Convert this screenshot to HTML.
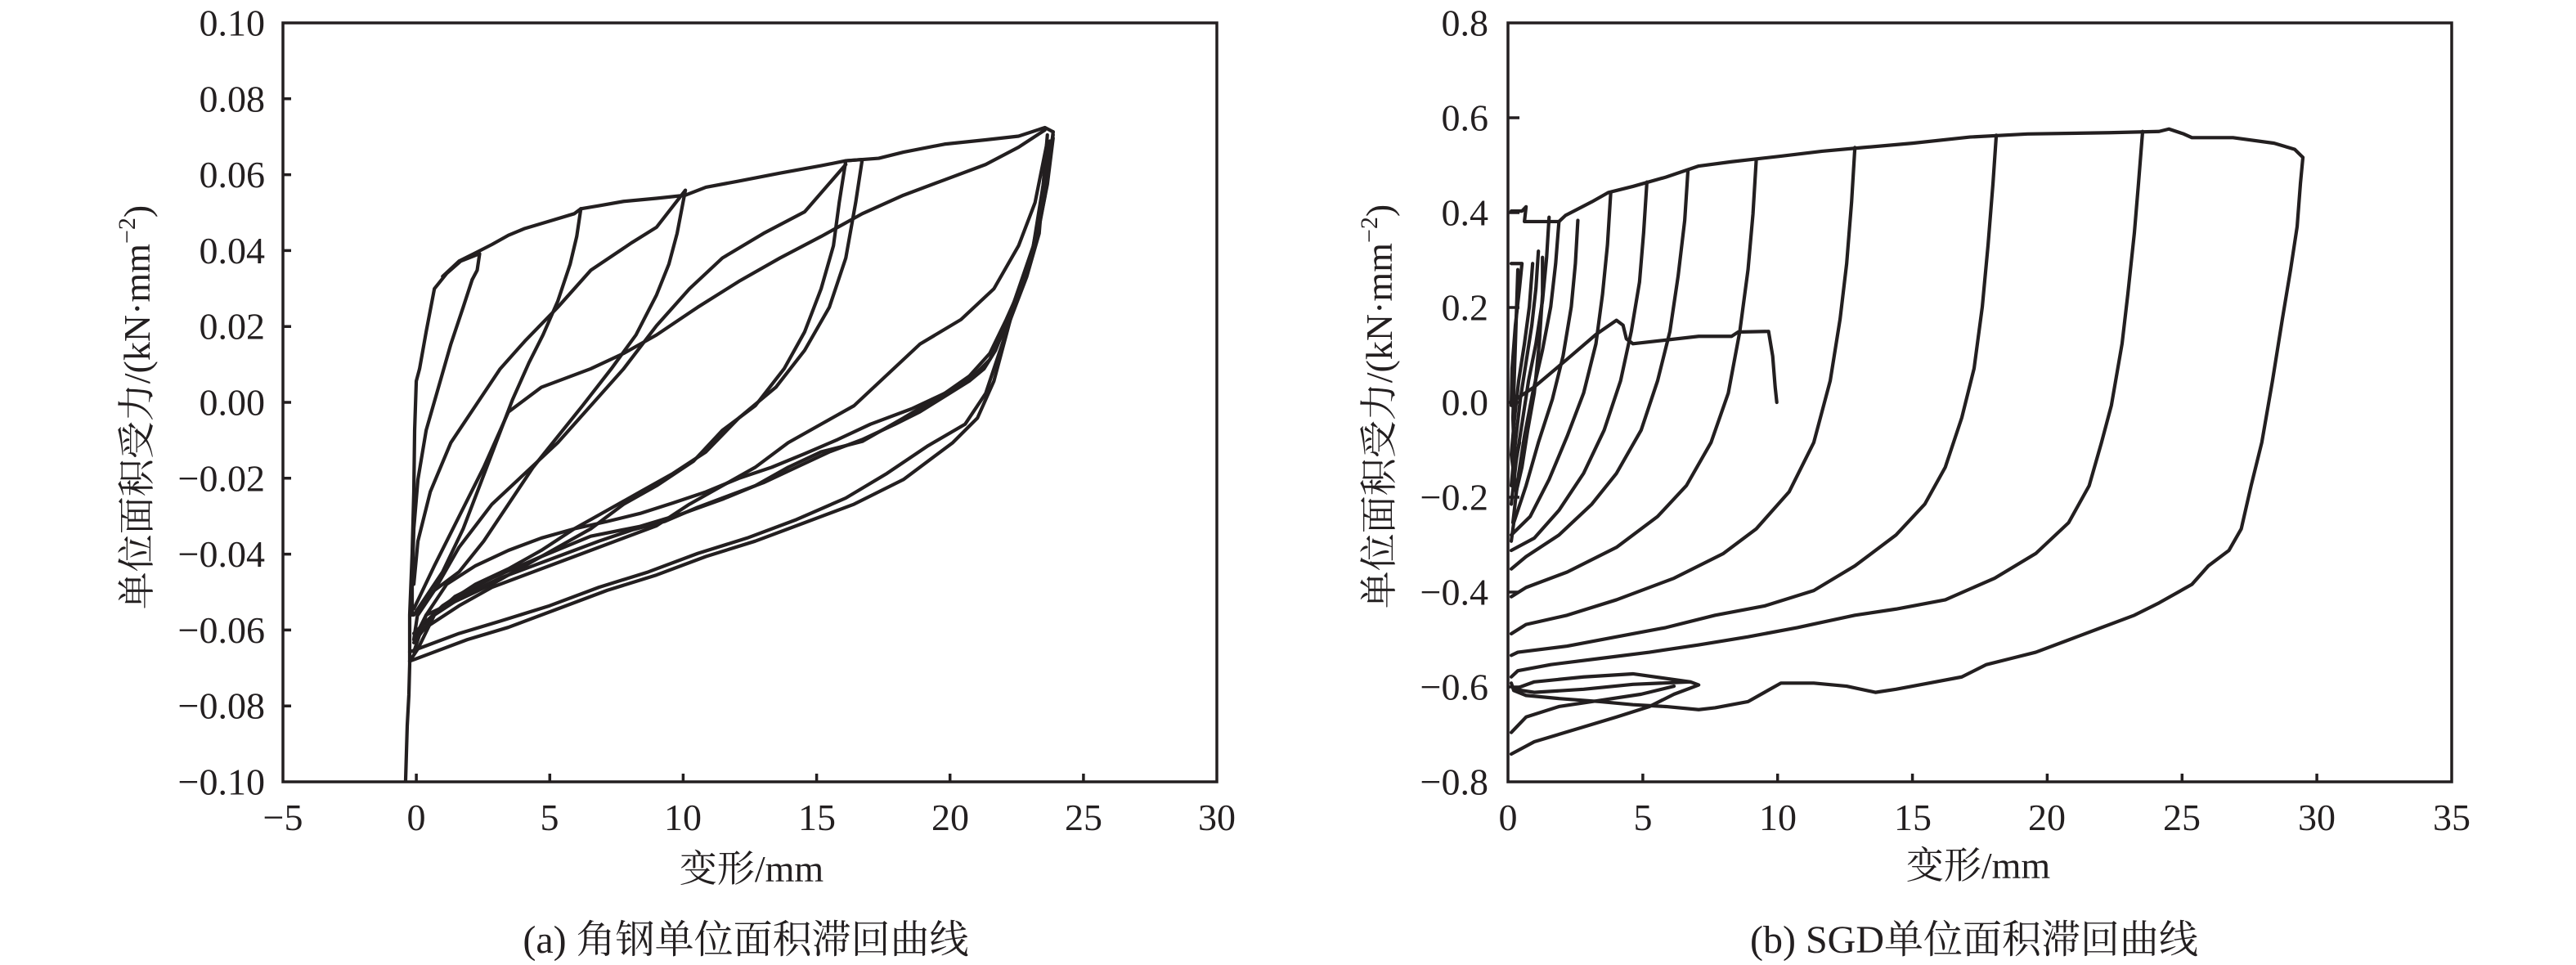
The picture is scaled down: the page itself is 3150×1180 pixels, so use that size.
<!DOCTYPE html>
<html><head><meta charset="utf-8"><style>
html,body{margin:0;padding:0;background:#fff;}
svg{display:block;}
text{font-family:"Liberation Serif","Noto Serif CJK SC","Noto Sans CJK SC",serif;fill:#231f20;}
.c{fill:none;stroke:#231f20;stroke-width:4.2;stroke-linejoin:round;stroke-linecap:round;}
.ax{fill:none;stroke:#231f20;stroke-width:3.5;}
</style></head><body>
<svg width="3150" height="1180" viewBox="0 0 3150 1180" xmlns="http://www.w3.org/2000/svg">
<rect width="3150" height="1180" fill="#fff"/>

<rect class="ax" x="346" y="28" width="1142" height="928"/>
<g class="ax">
<path d="M509.1 956v-10M672.3 956v-10M835.4 956v-10M998.6 956v-10M1161.7 956v-10M1324.9 956v-10"/>
<path d="M346 120.8h10M346 213.6h10M346 306.4h10M346 399.2h10M346 492h10M346 584.8h10M346 677.6h10M346 770.4h10M346 863.2h10"/>
</g>
<g font-size="46" text-anchor="end" dominant-baseline="central">
<text x="324" y="28">0.10</text><text x="324" y="120.8">0.08</text><text x="324" y="213.6">0.06</text>
<text x="324" y="306.4">0.04</text><text x="324" y="399.2">0.02</text><text x="324" y="492">0.00</text>
<text x="324" y="584.8">−0.02</text><text x="324" y="677.6">−0.04</text><text x="324" y="770.4">−0.06</text>
<text x="324" y="863.2">−0.08</text><text x="324" y="956">−0.10</text>
</g>
<g font-size="46" text-anchor="middle">
<text x="346" y="1015">−5</text><text x="509" y="1015">0</text><text x="672" y="1015">5</text>
<text x="835" y="1015">10</text><text x="999" y="1015">15</text><text x="1162" y="1015">20</text>
<text x="1325" y="1015">25</text><text x="1488" y="1015">30</text>
</g>
<text x="919" y="1078" font-size="46" text-anchor="middle">变形/mm</text>
<text x="912" y="1165" font-size="48" text-anchor="middle">(a) 角钢单位面积滞回曲线</text>
<text transform="translate(183,498) rotate(-90)" font-size="46" text-anchor="middle">单位面积受力/(kN·mm<tspan font-size="30" dy="-18">−2</tspan><tspan dy="18">)</tspan></text>

<g transform="matrix(1.00617 0 0 0.7526 -2.1 -0.6)">
<g class="c">
<polyline vector-effect="non-scaling-stroke" points="495,1270 497,1180 499,1130 500,1080 500,1000 503,900 505,800 506,700 508,620 512,600 520,540 530,470 545,445 562,425 585,413 582,440 576,455"/>
<polyline vector-effect="non-scaling-stroke" points="576,455 565,500 550,560 535,630 520,700 510,780 505,860 503,950 503,1000"/>
<polyline vector-effect="non-scaling-stroke" points="540,450 560,425 578,413 600,398 620,383 640,372 670,360 700,348 708,340"/>
<polyline vector-effect="non-scaling-stroke" points="708,340 703,385 695,430 680,490 662,545 645,590 625,650 605,720 585,790 565,860 540,930 515,980 505,1000"/>
<polyline vector-effect="non-scaling-stroke" points="505,950 510,880 525,800 550,720 580,660 610,600 640,555 680,500 720,440 770,395 800,370 835,310"/>
<polyline vector-effect="non-scaling-stroke" points="708,340 730,335 760,328 800,323 835,318 860,305 900,295 950,282 1000,270 1030,262 1050,260"/>
<polyline vector-effect="non-scaling-stroke" points="835,310 825,380 815,430 800,480 775,545 745,600 710,660 680,710 650,760 620,820 590,880 560,930 530,960 510,995 505,1040"/>
<polyline vector-effect="non-scaling-stroke" points="510,1000 530,960 560,890 600,820 640,770 680,720 720,660 760,600 800,530 840,470 880,420 930,380 980,345 1030,268"/>
<polyline vector-effect="non-scaling-stroke" points="1030,262 1022,330 1015,400 1000,470 980,540 955,600 920,660 880,700 845,750 800,790 760,820 720,860 680,890 640,920 600,950 560,975 520,1000 505,1040"/>
<polyline vector-effect="non-scaling-stroke" points="1050,260 1042,330 1030,420 1010,500 980,570 945,630 900,680 860,735 820,770 780,800 740,830 700,860 660,895 620,925 580,950 540,985 505,1030"/>
<polyline vector-effect="non-scaling-stroke" points="505,1040 520,1020 560,985 600,955 650,930 700,905 750,880 800,855 840,820 880,790 920,760 960,720 1000,690 1040,660 1080,610 1120,560 1170,520 1210,470 1240,400 1260,330 1275,230"/>
<polyline vector-effect="non-scaling-stroke" points="505,990 530,920 560,840 590,760 620,670 660,630 720,600 760,575 800,545 850,500 900,458 950,420 1000,385 1050,348 1100,318 1150,293 1200,268 1240,240 1272,212"/>
<polyline vector-effect="non-scaling-stroke" points="1030,262 1070,258 1100,248 1150,235 1200,228 1240,222 1272,208 1282,215"/>
<polyline vector-effect="non-scaling-stroke" points="1282,215 1278,260 1272,320 1262,390 1248,450 1230,510 1212,570 1198,600 1180,620 1150,645 1120,670 1090,690 1050,715 1010,735 970,760 930,785 890,805 850,825 810,848 770,862 730,880 690,900 650,920 610,940 570,965 530,1000 505,1045"/>
<polyline vector-effect="non-scaling-stroke" points="1282,220 1270,300 1258,400 1240,470 1222,540 1205,585 1185,612 1150,640 1110,665 1060,690 1020,715 980,738 940,760 900,778 860,800 820,818 780,835 740,848 700,860 660,875 620,895 580,920 545,950 520,1000 505,1060"/>
<polyline vector-effect="non-scaling-stroke" points="1282,225 1275,300 1263,380 1245,460 1225,520 1205,575 1180,612 1150,640 1100,680 1050,718 1000,735 960,760 920,790 880,812 830,836 780,856 720,872 660,905 600,940 555,970 530,1000 510,1055 500,1075"/>
<polyline vector-effect="non-scaling-stroke" points="500,1075 530,1060 570,1040 620,1020 680,990 740,960 800,935 860,905 920,880 980,850 1040,820 1100,780 1160,720 1190,680 1210,620 1230,520 1250,450 1265,380 1275,220"/>
<polyline vector-effect="non-scaling-stroke" points="500,1060 520,1050 560,1030 610,1010 670,985 730,955 790,930 850,900 910,875 970,845 1030,810 1080,770 1130,725 1175,690 1200,640 1220,560 1240,480 1255,420 1268,330 1278,230"/>
</g></g>

<rect class="ax" x="1844" y="28" width="1154" height="928"/>
<g class="ax">
<path d="M2008.9 956v-10M2173.7 956v-10M2338.6 956v-10M2503.4 956v-10M2668.3 956v-10M2833.1 956v-10"/>
<path d="M1844 144h14M1844 260h14M1844 376h14M1844 492h14M1844 608h14M1844 724h14M1844 840h14"/>
</g>
<g font-size="46" text-anchor="end" dominant-baseline="central">
<text x="1820" y="28">0.8</text><text x="1820" y="144">0.6</text><text x="1820" y="260">0.4</text>
<text x="1820" y="376">0.2</text><text x="1820" y="492">0.0</text><text x="1820" y="608">−0.2</text>
<text x="1820" y="724">−0.4</text><text x="1820" y="840">−0.6</text><text x="1820" y="956">−0.8</text>
</g>
<g font-size="46" text-anchor="middle">
<text x="1844" y="1015">0</text><text x="2009" y="1015">5</text><text x="2174" y="1015">10</text>
<text x="2339" y="1015">15</text><text x="2503" y="1015">20</text><text x="2668" y="1015">25</text>
<text x="2833" y="1015">30</text><text x="2998" y="1015">35</text>
</g>
<text x="2419" y="1074" font-size="46" text-anchor="middle">变形/mm</text>
<text x="2414" y="1165" font-size="48" text-anchor="middle">(b) SGD单位面积滞回曲线</text>
<text transform="translate(1702,497) rotate(-90)" font-size="46" text-anchor="middle">单位面积受力/(kN·mm<tspan font-size="30" dy="-18">−2</tspan><tspan dy="18">)</tspan></text>

<g transform="matrix(1.00523 0 0 0.7545 1574.6 -2.2)">
<g class="c">
<polyline vector-effect="non-scaling-stroke" points="272,345 285,345 290,338 288,362 330,362 338,352 370,330 390,315 420,305 460,290 500,272 540,265 600,256 650,248 700,242 760,235 830,225 900,220 1000,218 1060,216 1072,212 1090,220 1100,226 1150,226 1200,235 1225,245 1235,258 1232,300 1228,370 1220,440 1210,520 1198,620 1185,720 1172,790 1160,860 1145,895 1120,920 1100,950 1060,980 1030,1000 990,1020 950,1040 910,1060 880,1070 850,1080 820,1100 780,1110 740,1120 715,1125 680,1115 640,1110 600,1110 580,1125 560,1140 520,1150 500,1153 460,1148 420,1145 380,1140 330,1135 290,1130 275,1122 272,1110"/>
<polyline vector-effect="non-scaling-stroke" points="1040,216 1035,300 1030,380 1022,480 1015,560 1002,660 990,720 975,790 950,850 910,900 860,940 800,975 740,990 690,1000 620,1020 560,1035 500,1048 440,1060 380,1070 320,1080 280,1090 272,1100"/>
<polyline vector-effect="non-scaling-stroke" points="862,222 858,300 852,400 845,500 835,600 820,680 800,760 775,820 740,870 690,920 640,960 580,985 520,1000 460,1020 400,1035 340,1050 280,1060 272,1065"/>
<polyline vector-effect="non-scaling-stroke" points="690,242 686,330 680,430 672,520 660,620 640,720 610,800 570,860 530,900 470,940 400,975 340,1000 290,1015 272,1030"/>
<polyline vector-effect="non-scaling-stroke" points="570,262 566,350 560,440 550,540 536,640 515,720 485,790 450,840 400,890 340,930 290,955 272,970"/>
<polyline vector-effect="non-scaling-stroke" points="487,278 483,360 475,450 465,540 450,620 430,700 400,770 370,820 330,870 290,905 272,925"/>
<polyline vector-effect="non-scaling-stroke" points="437,298 433,380 428,460 418,540 405,620 385,700 360,770 330,830 300,875 272,895"/>
<polyline vector-effect="non-scaling-stroke" points="393,315 389,400 383,480 375,560 360,640 340,710 318,780 295,840 272,870"/>
<polyline vector-effect="non-scaling-stroke" points="353,360 350,430 345,500 335,580 322,650 305,720 290,790 275,850 272,880"/>
<polyline vector-effect="non-scaling-stroke" points="330,362 326,430 320,500 310,570 298,640 288,710 280,780 274,850"/>
<polyline vector-effect="non-scaling-stroke" points="318,355 315,420 310,490 302,560 293,620 285,690 278,750 272,820"/>
<polyline vector-effect="non-scaling-stroke" points="305,410 302,470 297,530 290,590 283,650 277,720 272,790"/>
<polyline vector-effect="non-scaling-stroke" points="298,430 294,500 288,560 281,620 276,680 272,740 278,800 285,760 292,700 300,640 306,560 310,480 310,420"/>
<polyline vector-effect="non-scaling-stroke" points="272,430 285,430 282,470 277,530 273,600 272,660"/>
<polyline vector-effect="non-scaling-stroke" points="280,440 278,520 276,600 274,680 276,760 282,720"/>
<polyline vector-effect="non-scaling-stroke" points="272,655 300,630 340,585 375,545 400,522 408,530 412,552 420,560 500,548 540,548 548,541 585,540 590,580 593,630 595,655"/>
<polyline vector-effect="non-scaling-stroke" points="272,1225 300,1205 350,1185 400,1165 440,1148 470,1128 500,1113 490,1108 420,1112 360,1120 300,1125 275,1120 300,1108 360,1100 420,1095 490,1108"/>
<polyline vector-effect="non-scaling-stroke" points="272,1190 290,1165 330,1148 380,1138 430,1128 470,1115"/>
</g></g>
</svg>
</body></html>
